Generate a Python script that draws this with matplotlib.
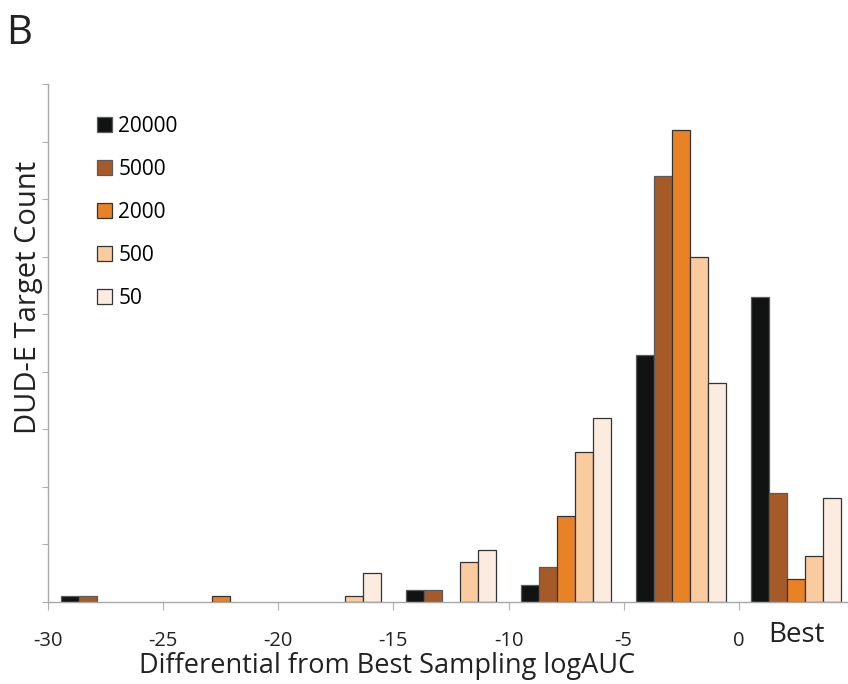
import numpy as np
import matplotlib
matplotlib.use("Agg")
import matplotlib.pyplot as plt

plt.rcParams["font.family"] = ["Open Sans", "DejaVu Sans"]

# bin centres (5-unit bins from -30 to 0, plus the "Best" group)
bin_centres = [-27.5, -22.5, -17.5, -12.5, -7.5, -2.5, 2.5]
series_labels = ["20000", "5000", "2000", "500", "50"]
counts_20000 = [1, 0, 0, 2, 3, 43, 53]
counts_5000 = [1, 0, 0, 2, 6, 74, 19]
counts_2000 = [0, 1, 0, 0, 15, 82, 4]
counts_500 = [0, 0, 1, 7, 26, 60, 8]
counts_50 = [0, 0, 5, 9, 32, 38, 18]
colors = ["#111312", "#a65a27", "#e88224", "#fbcba0", "#fcece0"]
x_ticks = [-30, -25, -20, -15, -10, -5, 0]

all_counts = [counts_20000, counts_5000, counts_2000, counts_500, counts_50]

fig = plt.figure(figsize=(8.48, 6.84), dpi=100)
ax = fig.add_axes([48 / 848, 82 / 684, 799 / 848, 518 / 684])

bw = 18 / 23.0
handles = []
for i, (vals, col, lab) in enumerate(zip(all_counts, colors, series_labels)):
    xs = np.array(bin_centres) + (i - 2) * bw
    vals = np.array(vals)
    keep = vals > 0
    edge = "#5a5a5a" if i < 2 else "#333333"
    b = ax.bar(xs[keep], vals[keep], width=bw, color=col, edgecolor=edge,
               linewidth=0.9, label=lab)
    handles.append(b)

ax.set_xlim(-30, 4.7)
ax.set_ylim(0, 90)

for s in ["top", "right"]:
    ax.spines[s].set_visible(False)
for s in ["left", "bottom"]:
    ax.spines[s].set_color("#a8a8a8")
    ax.spines[s].set_linewidth(1.0)

ax.set_yticks(np.arange(0, 91, 10))
ax.set_yticklabels([])
ax.tick_params(axis="y", direction="out", length=4, color="#b0b0b0", width=0.8)

ax.set_xticks(x_ticks)
ax.set_xticklabels([str(t) for t in x_ticks], fontsize=14.5, color="#222222")
ax.tick_params(axis="x", which="major", direction="out", length=6,
               color="#b0b0b0", width=0.8, pad=15)
ax.set_xticks([2.5], minor=True)
ax.set_xticklabels(["Best"], minor=True, fontsize=20, color="#222222")
ax.tick_params(axis="x", which="minor", length=0, pad=14)

ax.set_xlabel("Differential from Best Sampling logAUC", fontsize=19.5,
              color="#222222")
ax.xaxis.set_label_coords((387 - 48) / 799, -50 / 518)
ax.xaxis.label.set_va("top")
fig.text(29 / 848, 1 - 297 / 684, "DUD-E Target Count", rotation=90,
         fontsize=21, color="#222222", ha="center", va="center")
fig.text(6 / 848, 1 - 44 / 684, "B", fontsize=29, color="#222222",
         ha="left", va="baseline")

ax.legend(handles=handles, loc="upper left",
          bbox_to_anchor=(97 / 848, 1 - 116 / 684), bbox_transform=fig.transFigure,
          frameon=False, fontsize=15, handlelength=0.72, handleheight=0.72,
          handletextpad=0.3, labelspacing=1.05, borderaxespad=0, borderpad=0)

fig.savefig("out.png", dpi=100)
